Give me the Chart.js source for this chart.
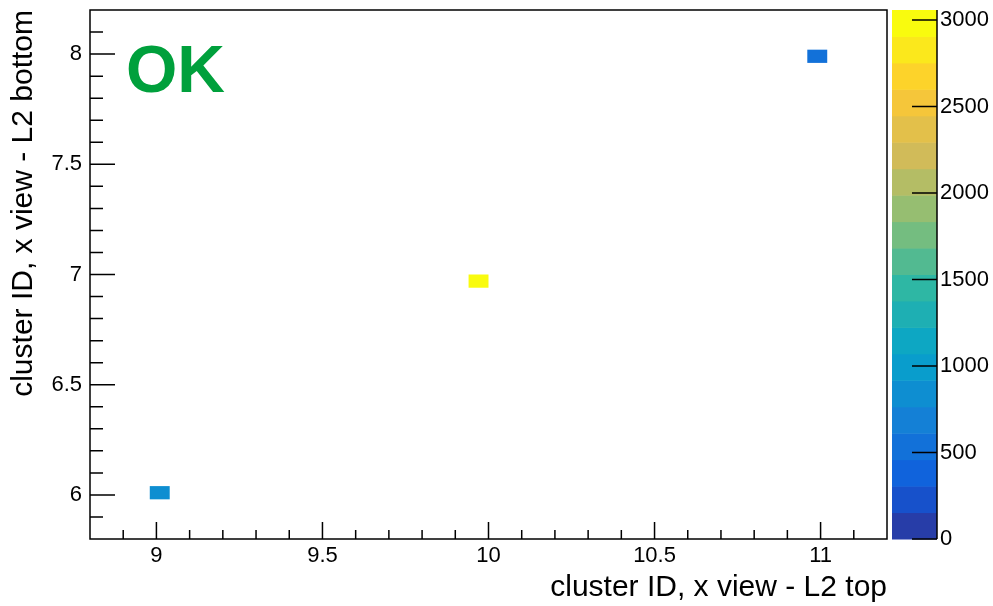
<!DOCTYPE html>
<html>
<head>
<meta charset="utf-8">
<script src="https://cdn.jsdelivr.net/npm/chart.js@4.4.0/dist/chart.umd.min.js"></script>
<style>
html, body { margin: 0; padding: 0; background: #fff; overflow: hidden; }
#contenedor { width: 993px; height: 606px; }
</style>
</head>
<body>
<div id="contenedor"><canvas id="histo"></canvas></div>
<script>
// Celdas con contenido (centro del bin) y sus cuentas
const celdaX = [9.01, 9.97, 10.99];
const celdaY = [6.01, 6.97, 7.99];
const celdaCuentas = [850, 3058, 540];
const anchoBin = 0.06;

const ticksX = [9, 9.5, 10, 10.5, 11];
const ticksY = [6, 6.5, 7, 7.5, 8];
const ticksZ = [0, 500, 1000, 1500, 2000, 2500, 3000];
const zMax = 3058;
const nBandas = 20;

const FUENTE = 'Liberation Sans, Arial, sans-serif';

// Paleta kBird de ROOT
const paradas = [0.0, 0.125, 0.25, 0.375, 0.5, 0.625, 0.75, 0.875, 1.0];
const rojo  = [0.2082, 0.0592, 0.0780, 0.0232, 0.1802, 0.5301, 0.8186, 0.9956, 0.9764];
const verde = [0.1664, 0.3599, 0.5041, 0.6419, 0.7178, 0.7492, 0.7328, 0.7862, 0.9832];
const azul  = [0.5293, 0.8684, 0.8385, 0.7914, 0.6425, 0.4662, 0.3499, 0.1968, 0.0539];

function colorPaleta(f) {
    let k = 0;
    while (k < paradas.length - 2 && f > paradas[k + 1]) k++;
    const t = (f - paradas[k]) / (paradas[k + 1] - paradas[k]);
    const c = arr => Math.round(255 * (arr[k] + (arr[k + 1] - arr[k]) * t));
    return `rgb(${c(rojo)},${c(verde)},${c(azul)})`;
}

function colorBanda(i) {
    // igual que THistPainter: indice dentro de 255 colores
    const idx = Math.floor((i + 0.99) * 255 / nBandas);
    return colorPaleta(idx / 254);
}

function bandaDe(v) {
    return Math.min(nBandas - 1, Math.floor(v / zMax * nBandas));
}

const pluginHisto = {
    id: 'histo2d',
    afterDatasetsDraw(chart) {
        const { ctx, chartArea: ca, scales: { x, y } } = chart;
        ctx.save();

        // 1. Celdas
        celdaX.forEach((cx, i) => {
            const x0 = x.getPixelForValue(cx - anchoBin / 2);
            const x1 = x.getPixelForValue(cx + anchoBin / 2);
            const y0 = y.getPixelForValue(celdaY[i] + anchoBin / 2);
            const y1 = y.getPixelForValue(celdaY[i] - anchoBin / 2);
            ctx.fillStyle = colorBanda(bandaDe(celdaCuentas[i]));
            ctx.fillRect(x0, y0, x1 - x0, y1 - y0);
        });

        // 2. Marco y ticks hacia dentro
        ctx.strokeStyle = '#000';
        ctx.lineWidth = 1.5;
        ctx.strokeRect(ca.left, ca.top, ca.right - ca.left, ca.bottom - ca.top);

        ctx.beginPath();
        for (let v = 8.9; v < 11.15; v += 0.1) {
            const px = x.getPixelForValue(v);
            const mayor = ticksX.some(t => Math.abs(t - v) < 1e-6);
            ctx.moveTo(px, ca.bottom);
            ctx.lineTo(px, ca.bottom - (mayor ? 17 : 9));
        }
        for (let v = 5.9; v < 8.15; v += 0.1) {
            const py = y.getPixelForValue(v);
            const mayor = ticksY.some(t => Math.abs(t - v) < 1e-6);
            ctx.moveTo(ca.left, py);
            ctx.lineTo(ca.left + (mayor ? 25 : 13), py);
        }
        ctx.stroke();

        // 3. Barra de colores
        const bx0 = ca.right + 5, bx1 = ca.right + 50;
        const alto = (ca.bottom - ca.top) / nBandas;
        for (let i = 0; i < nBandas; i++) {
            ctx.fillStyle = colorBanda(i);
            const yb = ca.bottom - (i + 1) * alto;
            ctx.fillRect(bx0, yb, bx1 - bx0, alto + 0.5);
        }
        ctx.beginPath();
        ctx.moveTo(bx1, ca.top);
        ctx.lineTo(bx1, ca.bottom);
        ctx.font = `22px ${FUENTE}`;
        ctx.fillStyle = '#000';
        ctx.textAlign = 'left';
        ctx.textBaseline = 'middle';
        ticksZ.forEach(z => {
            const py = ca.bottom - z / zMax * (ca.bottom - ca.top);
            ctx.moveTo(bx1 - 25, py);
            ctx.lineTo(bx1, py);
            ctx.fillText(String(z), bx1 + 3, py);
        });
        ctx.stroke();

        // 4. Etiqueta OK
        ctx.font = `bold 66px ${FUENTE}`;
        ctx.fillStyle = '#00a03c';
        ctx.textBaseline = 'alphabetic';
        ctx.fillText('OK', ca.left + 36, ca.top + 82);

        ctx.restore();
    }
};

const ctx = document.getElementById('histo').getContext('2d');
new Chart(ctx, {
    type: 'scatter',
    data: {
        datasets: [{
            data: celdaX.map((v, i) => ({ x: v, y: celdaY[i] })),
            pointRadius: 0,
            pointHoverRadius: 0
        }]
    },
    options: {
        responsive: true,
        maintainAspectRatio: false,
        animation: false,
        events: [],
        layout: { padding: { left: 0, right: 106, top: 10, bottom: 0 } },
        plugins: { legend: { display: false }, tooltip: { enabled: false } },
        scales: {
            x: {
                type: 'linear', min: 8.8, max: 11.2,
                afterBuildTicks: s => { s.ticks = ticksX.map(v => ({ value: v })); },
                afterFit: s => { s.height = 67; s.paddingLeft = 0; s.paddingRight = 0; },
                grid: { display: false, drawTicks: false },
                border: { display: false },
                ticks: {
                    font: { family: FUENTE, size: 22 }, color: '#000',
                    padding: 4, maxRotation: 0, autoSkip: false,
                    callback: v => String(v)
                },
                title: {
                    display: true, text: 'cluster ID, x view - L2 top', align: 'end',
                    font: { family: FUENTE, size: 30 }, color: '#000',
                    padding: { top: 0, bottom: 0 }
                }
            },
            y: {
                type: 'linear', min: 5.8, max: 8.2,
                afterBuildTicks: s => { s.ticks = ticksY.map(v => ({ value: v })); },
                afterFit: s => { s.width = 90; s.paddingTop = 0; s.paddingBottom = 0; },
                grid: { display: false, drawTicks: false },
                border: { display: false },
                ticks: {
                    font: { family: FUENTE, size: 22 }, color: '#000',
                    padding: 8, autoSkip: false,
                    callback: v => String(v)
                },
                title: {
                    display: true, text: 'cluster ID, x view - L2 bottom', align: 'end',
                    font: { family: FUENTE, size: 30 }, color: '#000',
                    padding: { top: 6, bottom: 0 }
                }
            }
        }
    },
    plugins: [pluginHisto]
});
</script>
</body>
</html>
